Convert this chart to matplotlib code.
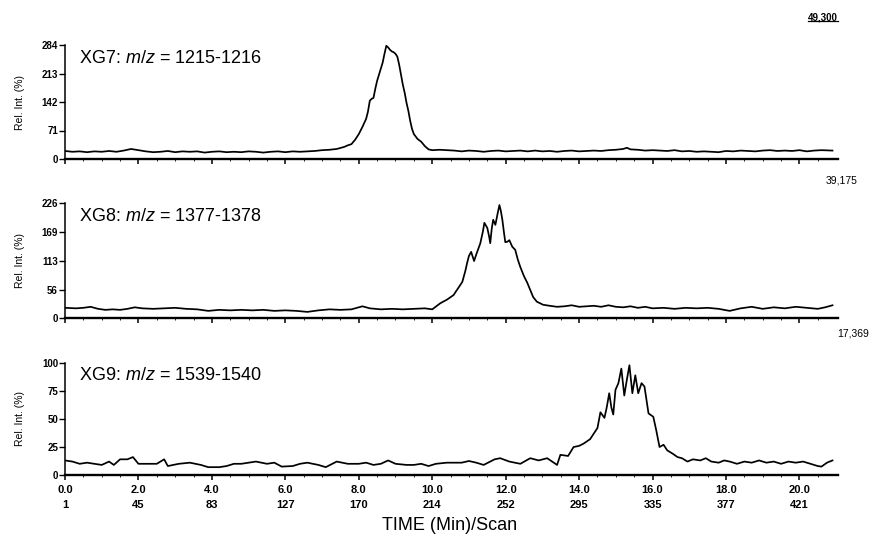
import numpy as np
import matplotlib
matplotlib.use("Agg")
import matplotlib.pyplot as plt
from matplotlib.lines import Line2D

plt.rcParams['font.family'] = ['Liberation Sans', 'DejaVu Sans']
plt.rcParams['mathtext.fontset'] = 'custom'
plt.rcParams['mathtext.rm'] = 'Liberation Sans'
plt.rcParams['mathtext.it'] = 'Liberation Sans:italic'

# ---- XG7 chromatogram (m/z 1215-1216) ----
xg7_time = [0.0, 0.2, 0.4, 0.6, 0.8, 1.0, 1.2, 1.4, 1.6, 1.8, 2.0, 2.2, 2.4, 2.6, 2.8,
            3.0, 3.2, 3.4, 3.6, 3.8, 4.0, 4.2, 4.4, 4.6, 4.8, 5.0, 5.2, 5.4, 5.6, 5.8,
            6.0, 6.2, 6.4, 6.6, 6.8, 7.0, 7.2, 7.4, 7.6, 7.7, 7.8, 7.9, 8.0, 8.1, 8.2,
            8.25, 8.3, 8.35, 8.4, 8.45, 8.5, 8.55, 8.6, 8.65, 8.7, 8.75, 8.8, 8.85, 8.9,
            8.95, 9.0, 9.05, 9.1, 9.15, 9.2, 9.25, 9.3, 9.35, 9.4, 9.45, 9.5, 9.6, 9.7,
            9.8, 9.9, 10.0, 10.2, 10.4, 10.6, 10.8, 11.0, 11.2, 11.4, 11.6, 11.8, 12.0,
            12.2, 12.4, 12.6, 12.8, 13.0, 13.2, 13.4, 13.6, 13.8, 14.0, 14.2, 14.4, 14.6,
            14.8, 15.0, 15.2, 15.3, 15.4, 15.6, 15.8, 16.0, 16.2, 16.4, 16.6, 16.8, 17.0,
            17.2, 17.4, 17.6, 17.8, 18.0, 18.2, 18.4, 18.6, 18.8, 19.0, 19.2, 19.4, 19.6,
            19.8, 20.0, 20.2, 20.4, 20.6, 20.9]
xg7_int = [20, 18, 19, 17, 19, 18, 20, 18, 21, 25, 22, 19, 17, 18, 20,
           17, 19, 18, 19, 16, 18, 19, 17, 18, 17, 19, 18, 16, 18, 19,
           17, 19, 18, 19, 20, 22, 23, 25, 30, 34, 37, 48, 62, 80, 100,
           118, 145, 150, 152, 175, 195, 210, 225, 240, 262, 282, 278, 272, 268,
           266, 262, 255, 235, 210, 185, 165, 140, 120, 95, 75, 62, 50, 43,
           32, 24, 22, 23, 22, 21, 19, 21, 20, 18, 20, 21, 19,
           20, 21, 19, 21, 19, 20, 18, 20, 21, 19, 20, 21, 20,
           22, 23, 25, 28, 24, 23, 21, 22, 21, 20, 22, 19, 20,
           18, 19, 18, 17, 20, 19, 21, 20, 19, 21, 22, 20, 21,
           20, 22, 19, 21, 22, 21]

# ---- XG8 chromatogram (m/z 1377-1378) ----
xg8_time = [0.0, 0.3, 0.5, 0.7, 0.9, 1.1, 1.3, 1.5, 1.7, 1.9, 2.1, 2.4, 2.7, 3.0, 3.3,
            3.6, 3.9, 4.2, 4.5, 4.8, 5.1, 5.4, 5.7, 6.0, 6.3, 6.6, 6.9, 7.2, 7.5, 7.8,
            8.1, 8.3, 8.6, 8.9, 9.2, 9.5, 9.8, 10.0, 10.22, 10.4, 10.58, 10.7, 10.82,
            10.9, 10.95, 11.0, 11.06, 11.14, 11.2, 11.31, 11.38, 11.42, 11.46, 11.5,
            11.55, 11.58, 11.62, 11.66, 11.72, 11.78, 11.83, 11.87, 11.91, 11.95, 11.99,
            12.05, 12.1, 12.18, 12.26, 12.33, 12.4, 12.5, 12.59, 12.67, 12.75, 12.85,
            13.02, 13.2, 13.4, 13.6, 13.8, 14.0, 14.2, 14.4, 14.6, 14.8, 15.0, 15.2,
            15.4, 15.6, 15.8, 16.0, 16.3, 16.6, 16.9, 17.2, 17.5, 17.8, 18.1, 18.4,
            18.7, 19.0, 19.3, 19.6, 19.9, 20.2, 20.5, 20.7, 20.9]
xg8_int = [20, 19, 20, 22, 18, 16, 17, 16, 18, 21, 19, 18, 19, 20, 18,
           17, 14, 16, 15, 16, 15, 16, 14, 15, 14, 12, 15, 17, 16, 17,
           23, 19, 17, 18, 17, 18, 19, 17, 29, 36, 45, 58, 71,
           92, 108, 122, 130, 112, 125, 147, 170, 187, 182, 177,
           160, 147, 175, 193, 183, 205, 222, 210, 193, 170, 149,
           150, 153, 140, 134, 115, 100, 82, 69, 55, 41, 32,
           26, 24, 22, 23, 25, 22, 23, 24, 22, 25, 22, 21,
           23, 20, 22, 19, 20, 18, 20, 19, 20, 18, 14, 19,
           22, 18, 21, 19, 22, 20, 18, 21, 25]

# ---- XG9 chromatogram (m/z 1539-1540) ----
xg9_time = [0.0, 0.2, 0.4, 0.6, 0.8, 1.0, 1.2, 1.33, 1.5, 1.7, 1.85, 2.0, 2.2, 2.5,
            2.7, 2.8, 3.1, 3.4, 3.7, 3.9, 4.2, 4.4, 4.6, 4.8, 5.0, 5.2, 5.5, 5.7,
            5.9, 6.2, 6.4, 6.6, 6.9, 7.1, 7.4, 7.7, 8.0, 8.2, 8.4, 8.6, 8.8, 9.0,
            9.3, 9.5, 9.7, 9.9, 10.1, 10.4, 10.6, 10.8, 11.0, 11.2, 11.4, 11.7,
            11.85, 12.1, 12.4, 12.67, 12.9, 13.13, 13.4, 13.49, 13.7, 13.85, 14.0,
            14.12, 14.3, 14.4, 14.5, 14.58, 14.69, 14.75, 14.82, 14.88, 14.93, 14.99,
            15.07, 15.15, 15.23, 15.3, 15.37, 15.45, 15.53, 15.61, 15.7, 15.78, 15.89,
            16.02, 16.1, 16.19, 16.3, 16.4, 16.55, 16.68, 16.8, 16.95, 17.1, 17.3,
            17.45, 17.6, 17.8, 17.95, 18.1, 18.3, 18.5, 18.7, 18.9, 19.1, 19.3, 19.5,
            19.7, 19.9, 20.1, 20.3, 20.5, 20.6, 20.75, 20.9]
xg9_int = [13, 12, 10, 11, 10, 9, 12, 9, 14, 14, 16, 10, 10, 10,
           14, 8, 10, 11, 9, 7, 7, 8, 10, 10, 11, 12, 10, 11,
           7.5, 8, 10, 11, 9, 7, 12, 10, 10, 11, 9, 10, 13, 10,
           9, 9, 10, 8, 10, 11, 11, 11, 12.5, 11, 9, 14,
           15, 12, 10, 15, 13, 15, 9, 18, 17, 25, 26,
           28, 32, 37, 42, 56, 51, 60, 73, 60, 54, 76,
           82, 95, 71, 85, 98, 73, 89, 73, 82, 79, 55,
           52, 40, 25, 27, 22, 19, 16, 15, 12, 14, 13,
           15, 12, 11, 13, 12, 10, 12, 11, 13, 11, 12, 10,
           12, 11, 12, 10, 8, 7.5, 11, 13]

panel_labels = [r"XG7: $m/z$ = 1215-1216", r"XG8: $m/z$ = 1377-1378", r"XG9: $m/z$ = 1539-1540"]
panel_yticks = [[0, 71, 142, 213, 284], [0, 56, 113, 169, 226], [0, 25, 50, 75, 100]]
panel_totals = ["49,300", "39,175", "17,369"]

time_ticks = [0.0, 2.0, 4.0, 6.0, 8.0, 10.0, 12.0, 14.0, 16.0, 18.0, 20.0]
scan_ticks = ["1", "45", "83", "127", "170", "214", "252", "295", "335", "377", "421"]

fig = plt.figure(figsize=(8.71, 5.53), dpi=100)

W, H = 871.0, 553.0
x0, x1 = 65, 838
panel_px = [(45, 159), (203, 318), (363, 475)]  # top, bottom (pixels)

series = [(xg7_time, xg7_int), (xg8_time, xg8_int), (xg9_time, xg9_int)]
axes = []
for i, ((top, bot), (t, v)) in enumerate(zip(panel_px, series)):
    ax = fig.add_axes([x0 / W, 1 - bot / H, (x1 - x0) / W, (bot - top) / H])
    axes.append(ax)
    ax.plot(t, v, color='black', lw=1.25)
    ymax = panel_yticks[i][-1]
    ax.set_ylim(0, ymax)
    ax.set_xlim(0, 21.05)
    for s in ('top', 'right'):
        ax.spines[s].set_visible(False)
    ax.spines['left'].set_linewidth(1.1)
    ax.spines['bottom'].set_linewidth(1.7)
    ax.set_yticks(panel_yticks[i])
    ax.set_yticklabels([str(y) for y in panel_yticks[i]], fontsize=7, fontweight='bold')
    ax.tick_params(axis='y', direction='out', length=4, width=1.0, pad=1)
    ax.set_xticks(time_ticks)
    ax.set_xticks(np.arange(0, 21.0, 0.5), minor=True)
    ax.tick_params(axis='x', which='major', direction='out', length=3.5, width=1.1)
    ax.tick_params(axis='x', which='minor', direction='out', length=1.5, width=0.6)
    if i < 2:
        ax.set_xticklabels([])
    else:
        ax.set_xticklabels([f"{tt:.1f}\n{sc}" for tt, sc in zip(time_ticks, scan_ticks)],
                           fontsize=8, fontweight='bold', linespacing=1.6)
        ax.tick_params(axis='x', which='major', pad=4)
    ax.set_ylabel("Rel. Int. (%)", fontsize=7.5)
    ax.yaxis.set_label_coords(-0.052, 0.5)
    ax.text(0.018, 0.885, panel_labels[i], transform=ax.transAxes,
            fontsize=13, va='center', ha='left')

# Base-peak intensity of each trace at the right edge
total_pos = [(838, 17), (858, 181), (869, 334)]
fig.canvas.draw()
renderer = fig.canvas.get_renderer()
for k, (lab, (px, py)) in enumerate(zip(panel_totals, total_pos)):
    txt = fig.text(px / W, 1 - py / H, lab, ha='right', va='center',
                   fontsize=7 if k == 0 else 7.5, fontweight='bold' if k == 0 else 'normal')
    if k == 0:
        bb = txt.get_window_extent(renderer=renderer)
        inv = fig.transFigure.inverted()
        (lx0, ly0), (lx1, _) = inv.transform([(bb.x0, bb.y0 + 1), (bb.x1, bb.y0 + 1)])
        fig.add_artist(Line2D([lx0, lx1], [ly0, ly0], transform=fig.transFigure,
                              color='black', lw=0.9))

fig.text(450 / W, 1 - 525 / H, "TIME (Min)/Scan", ha='center', va='center', fontsize=13)

fig.savefig("out.png", dpi=100)
